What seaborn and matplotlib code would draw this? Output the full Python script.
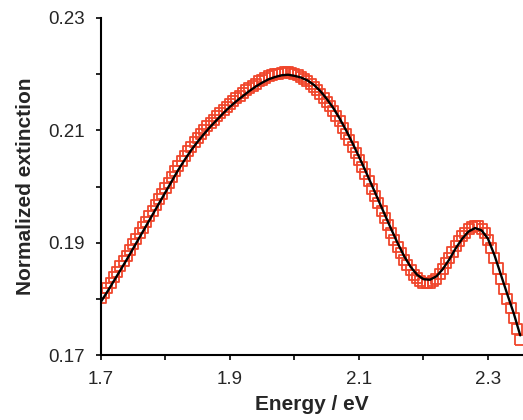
import matplotlib
matplotlib.use("Agg")
import matplotlib.pyplot as plt
import seaborn as sns
import pandas as pd

# measured extinction spectrum (open squares)
energy = [
    1.700, 1.705, 1.710, 1.715, 1.720, 1.725, 1.730, 1.735, 1.740, 1.745,
    1.750, 1.755, 1.760, 1.765, 1.770, 1.775, 1.780, 1.785, 1.790, 1.795,
    1.800, 1.805, 1.810, 1.815, 1.820, 1.825, 1.830, 1.835, 1.840, 1.845,
    1.850, 1.855, 1.860, 1.865, 1.870, 1.875, 1.880, 1.885, 1.890, 1.895,
    1.900, 1.905, 1.910, 1.915, 1.920, 1.925, 1.930, 1.935, 1.940, 1.945,
    1.950, 1.955, 1.960, 1.965, 1.970, 1.975, 1.980, 1.985, 1.990, 1.995,
    2.000, 2.005, 2.010, 2.015, 2.020, 2.025, 2.030, 2.035, 2.040, 2.045,
    2.050, 2.055, 2.060, 2.065, 2.070, 2.075, 2.080, 2.085, 2.090, 2.095,
    2.100, 2.105, 2.110, 2.115, 2.120, 2.125, 2.130, 2.135, 2.140, 2.145,
    2.150, 2.155, 2.160, 2.165, 2.170, 2.175, 2.180, 2.185, 2.190, 2.195,
    2.200, 2.205, 2.210, 2.215, 2.220, 2.225, 2.230, 2.235, 2.240, 2.245,
    2.250, 2.255, 2.260, 2.265, 2.270, 2.275, 2.280, 2.285, 2.290, 2.295,
    2.300, 2.305, 2.310, 2.315, 2.320, 2.325, 2.330, 2.335, 2.340, 2.345,
    2.350,
]
extinction = [
    0.1802, 0.1811, 0.1820, 0.1829, 0.1839, 0.1848, 0.1858, 0.1867, 0.1877, 0.1887,
    0.1897, 0.1907, 0.1917, 0.1927, 0.1937, 0.1947, 0.1957, 0.1967, 0.1977, 0.1987,
    0.1997, 0.2007, 0.2017, 0.2027, 0.2036, 0.2045, 0.2054, 0.2063, 0.2071, 0.2079,
    0.2086, 0.2093, 0.2100, 0.2107, 0.2113, 0.2119, 0.2125, 0.2131, 0.2136, 0.2142,
    0.2147, 0.2152, 0.2157, 0.2162, 0.2166, 0.2171, 0.2175, 0.2179, 0.2183, 0.2187,
    0.2190, 0.2193, 0.2196, 0.2198, 0.2200, 0.2201, 0.2202, 0.2203, 0.2203, 0.2202,
    0.2200, 0.2198, 0.2195, 0.2191, 0.2187, 0.2182, 0.2177, 0.2171, 0.2165, 0.2158,
    0.2151, 0.2143, 0.2135, 0.2126, 0.2116, 0.2105, 0.2094, 0.2083, 0.2071, 0.2059,
    0.2047, 0.2035, 0.2022, 0.2009, 0.1996, 0.1983, 0.1970, 0.1957, 0.1944, 0.1931,
    0.1918, 0.1905, 0.1893, 0.1881, 0.1870, 0.1860, 0.1851, 0.1843, 0.1837, 0.1832,
    0.1829, 0.1828, 0.1828, 0.1831, 0.1836, 0.1844, 0.1853, 0.1863, 0.1873, 0.1884,
    0.1894, 0.1903, 0.1911, 0.1918, 0.1924, 0.1928, 0.1930, 0.1929, 0.1925, 0.1917,
    0.1905, 0.1890, 0.1872, 0.1854, 0.1836, 0.1818, 0.1800, 0.1783, 0.1765, 0.1746,
    0.1726,
]

# fitted curve (black line)
fit_energy = [
    1.70, 1.71, 1.72, 1.73, 1.74, 1.75, 1.76, 1.77, 1.78, 1.79,
    1.80, 1.81, 1.82, 1.83, 1.84, 1.85, 1.86, 1.87, 1.88, 1.89,
    1.90, 1.91, 1.92, 1.93, 1.94, 1.95, 1.96, 1.97, 1.98, 1.99,
    2.00, 2.01, 2.02, 2.03, 2.04, 2.05, 2.06, 2.07, 2.08, 2.09,
    2.10, 2.11, 2.12, 2.13, 2.14, 2.15, 2.16, 2.17, 2.18, 2.19,
    2.20, 2.21, 2.22, 2.23, 2.24, 2.25, 2.26, 2.27, 2.28, 2.29,
    2.30, 2.31, 2.32, 2.33, 2.34, 2.35,
]
fit_extinction = [
    0.1795, 0.1813, 0.1832, 0.1851, 0.1870, 0.1890, 0.1910, 0.1930, 0.1950, 0.1970,
    0.1990, 0.2010, 0.2030, 0.2048, 0.2065, 0.2080, 0.2094, 0.2107, 0.2119, 0.2131,
    0.2142, 0.2152, 0.2161, 0.2170, 0.2178, 0.2185, 0.2191, 0.2195, 0.2198, 0.2199,
    0.2197, 0.2194, 0.2189, 0.2181, 0.2170, 0.2156, 0.2140, 0.2121, 0.2100, 0.2077,
    0.2053, 0.2028, 0.2002, 0.1976, 0.1950, 0.1924, 0.1899, 0.1876, 0.1857, 0.1843,
    0.1835, 0.1834, 0.1840, 0.1853, 0.1870, 0.1890, 0.1907, 0.1920, 0.1926, 0.1922,
    0.1907, 0.1878, 0.1843, 0.1808, 0.1774, 0.1735,
]

x_major = [1.7, 1.9, 2.1, 2.3]
x_minor = [1.8, 2.0, 2.2]
y_major = [0.17, 0.19, 0.21, 0.23]
y_minor = [0.18, 0.20, 0.22]

RED = "#F0462C"

sns.set_theme(style="ticks")
plt.rcParams["font.family"] = ["Liberation Sans", "DejaVu Sans"]

meas = pd.DataFrame({"energy": energy, "extinction": extinction})
fit = pd.DataFrame({"energy": fit_energy, "extinction": fit_extinction})

fig = plt.figure(figsize=(5.23, 4.2), dpi=100)
ax = fig.add_axes([101 / 523, 1 - 355 / 420, 422 / 523, 337 / 420])

sns.scatterplot(data=meas, x="energy", y="extinction", ax=ax, marker="s",
                s=52, facecolor="none", edgecolor=RED, linewidth=1.3, zorder=2)
sns.lineplot(data=fit, x="energy", y="extinction", ax=ax, color="black",
             linewidth=1.7, zorder=3)

ax.set_xlim(1.7, 2.3543)
ax.set_ylim(0.17, 0.23)
ax.set_xticks(x_major)
ax.set_xticks(x_minor, minor=True)
ax.set_yticks(y_major)
ax.set_yticks(y_minor, minor=True)
ax.set_xticklabels([f"{v:.1f}" for v in x_major])
ax.set_yticklabels([f"{v:.2f}" for v in y_major])

ax.tick_params(which="both", direction="out", length=3.5, width=1.2,
               color="black", labelsize=13.5, pad=8)
for side in ["top", "right"]:
    ax.spines[side].set_visible(False)
for side in ["left", "bottom"]:
    ax.spines[side].set_linewidth(1.5)
    ax.spines[side].set_color("black")

ax.set_xlabel("Energy / eV", fontsize=15, fontweight="bold", labelpad=5)
ax.set_ylabel("Normalized extinction", fontsize=15, fontweight="bold", labelpad=10)

fig.savefig("out.png", dpi=100)
